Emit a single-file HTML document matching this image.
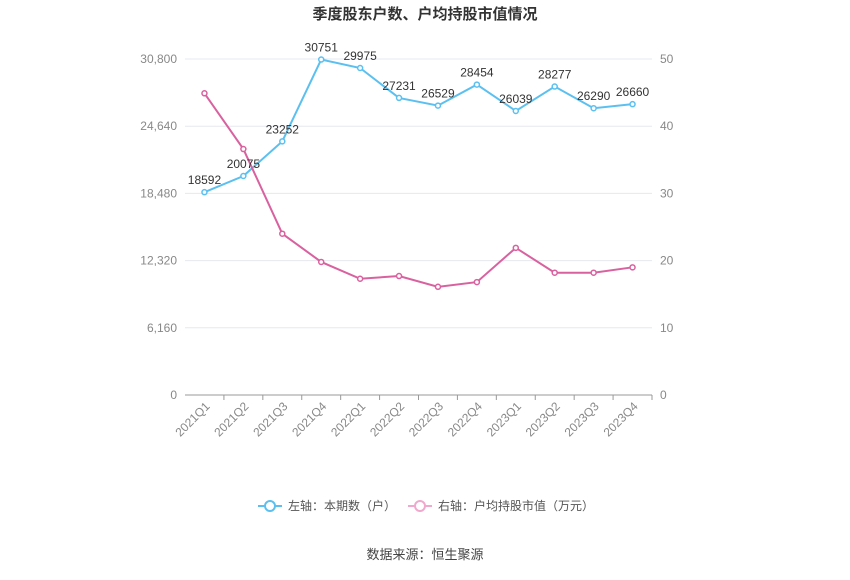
<!DOCTYPE html>
<html><head><meta charset="utf-8"><style>
body{margin:0;background:#fff;font-family:"Liberation Sans","Noto Sans CJK SC",sans-serif}
svg text{font-family:"Liberation Sans","Noto Sans CJK SC",sans-serif}
</style></head><body>
<svg id="c" width="850" height="575">
<text x="425" y="19" text-anchor="middle" font-size="15" font-weight="bold" fill="#333">季度股东户数、户均持股市值情况</text>
<g id="grid"></g><g id="axes"></g><g id="series"></g>
<g>
<g><line x1="258" y1="506" x2="282" y2="506" stroke="#5bc0f0" stroke-width="2"/><circle cx="270" cy="506" r="5" fill="#fff" stroke="#5bc0f0" stroke-width="2"/><text x="288" y="510" font-size="12" fill="#555">左轴：本期数（户）</text></g>
<g><line x1="408" y1="506" x2="432" y2="506" stroke="#f0a8cc" stroke-width="2"/><circle cx="420" cy="506" r="5" fill="#fff" stroke="#f0a8cc" stroke-width="2"/><text x="438" y="510" font-size="12" fill="#555">右轴：户均持股市值（万元）</text></g>
</g>
<text x="425" y="559" text-anchor="middle" font-size="13" fill="#444">数据来源：恒生聚源</text>
</svg>
<script>
const categories=["2021Q1","2021Q2","2021Q3","2021Q4","2022Q1","2022Q2","2022Q3","2022Q4","2023Q1","2023Q2","2023Q3","2023Q4"];
const holders=[18592,20075,23252,30751,29975,27231,26529,28454,26039,28277,26290,26660];
const avgValue=[44.9,36.6,24.0,19.8,17.3,17.7,16.1,16.8,21.9,18.2,18.2,19.0];
const leftTicks=[0,6160,12320,18480,24640,30800];
const rightTicks=[0,10,20,30,40,50];
const NS="http://www.w3.org/2000/svg";
const X0=185,X1=652,Y0=395,Y1=59;
const bw=(X1-X0)/categories.length;
const x=i=>X0+bw*(i+0.5);
const yL=v=>Y0-(v/30800)*(Y0-Y1);
const yR=v=>Y0-(v/50)*(Y0-Y1);
function mk(tag,attrs,parent,txt){const e=document.createElementNS(NS,tag);for(const k in attrs)e.setAttribute(k,attrs[k]);if(txt!==undefined)e.textContent=txt;document.getElementById(parent).appendChild(e);return e;}
leftTicks.forEach((t,i)=>{
 const g=mk("line",{x1:X0,x2:X1,y1:yL(t),y2:yL(t),stroke:i?"#e6e8ef":"#999","stroke-width":1},"grid");
 
 
 const l=mk("text",{x:X0-8,y:yL(t)+4,"text-anchor":"end","font-size":12,fill:"#888"},"axes",t.toLocaleString("en-US"));
 
 
});
rightTicks.forEach(t=>{
 const l=mk("text",{x:X1+8,y:yR(t)+4,"font-size":12,fill:"#888"},"axes",String(t));
 
 
});
categories.forEach((c,i)=>{
 const tk=mk("line",{x1:X0+bw*(i+1),x2:X0+bw*(i+1),y1:Y0,y2:Y0+5,stroke:"#999"},"axes");
 
 
 const l=mk("text",{x:x(i)+6,y:Y0+12,"text-anchor":"end","font-size":12,fill:"#888",transform:`rotate(-45 ${x(i)+6} ${Y0+12})`},"axes",c);
 
 
});
const p1=mk("polyline",{points:holders.map((v,i)=>x(i)+","+yL(v)).join(" "),fill:"none",stroke:"#5bc0f0","stroke-width":2},"series");


const p2=mk("polyline",{points:avgValue.map((v,i)=>x(i)+","+yR(v)).join(" "),fill:"none",stroke:"#d9619f","stroke-width":2},"series");


holders.forEach((v,i)=>{
 const c=mk("circle",{cx:x(i),cy:yL(v),r:2.5,fill:"#fff",stroke:"#5bc0f0","stroke-width":1.5},"series");
 
 
 const t=mk("text",{x:x(i),y:yL(v)-8,"text-anchor":"middle","font-size":12,fill:"#333"},"series",String(v));
 
 
});
avgValue.forEach((v,i)=>{
 const c=mk("circle",{cx:x(i),cy:yR(v),r:2.5,fill:"#fff",stroke:"#d9619f","stroke-width":1.5},"series");
 
 
});
</script>
</body></html>
